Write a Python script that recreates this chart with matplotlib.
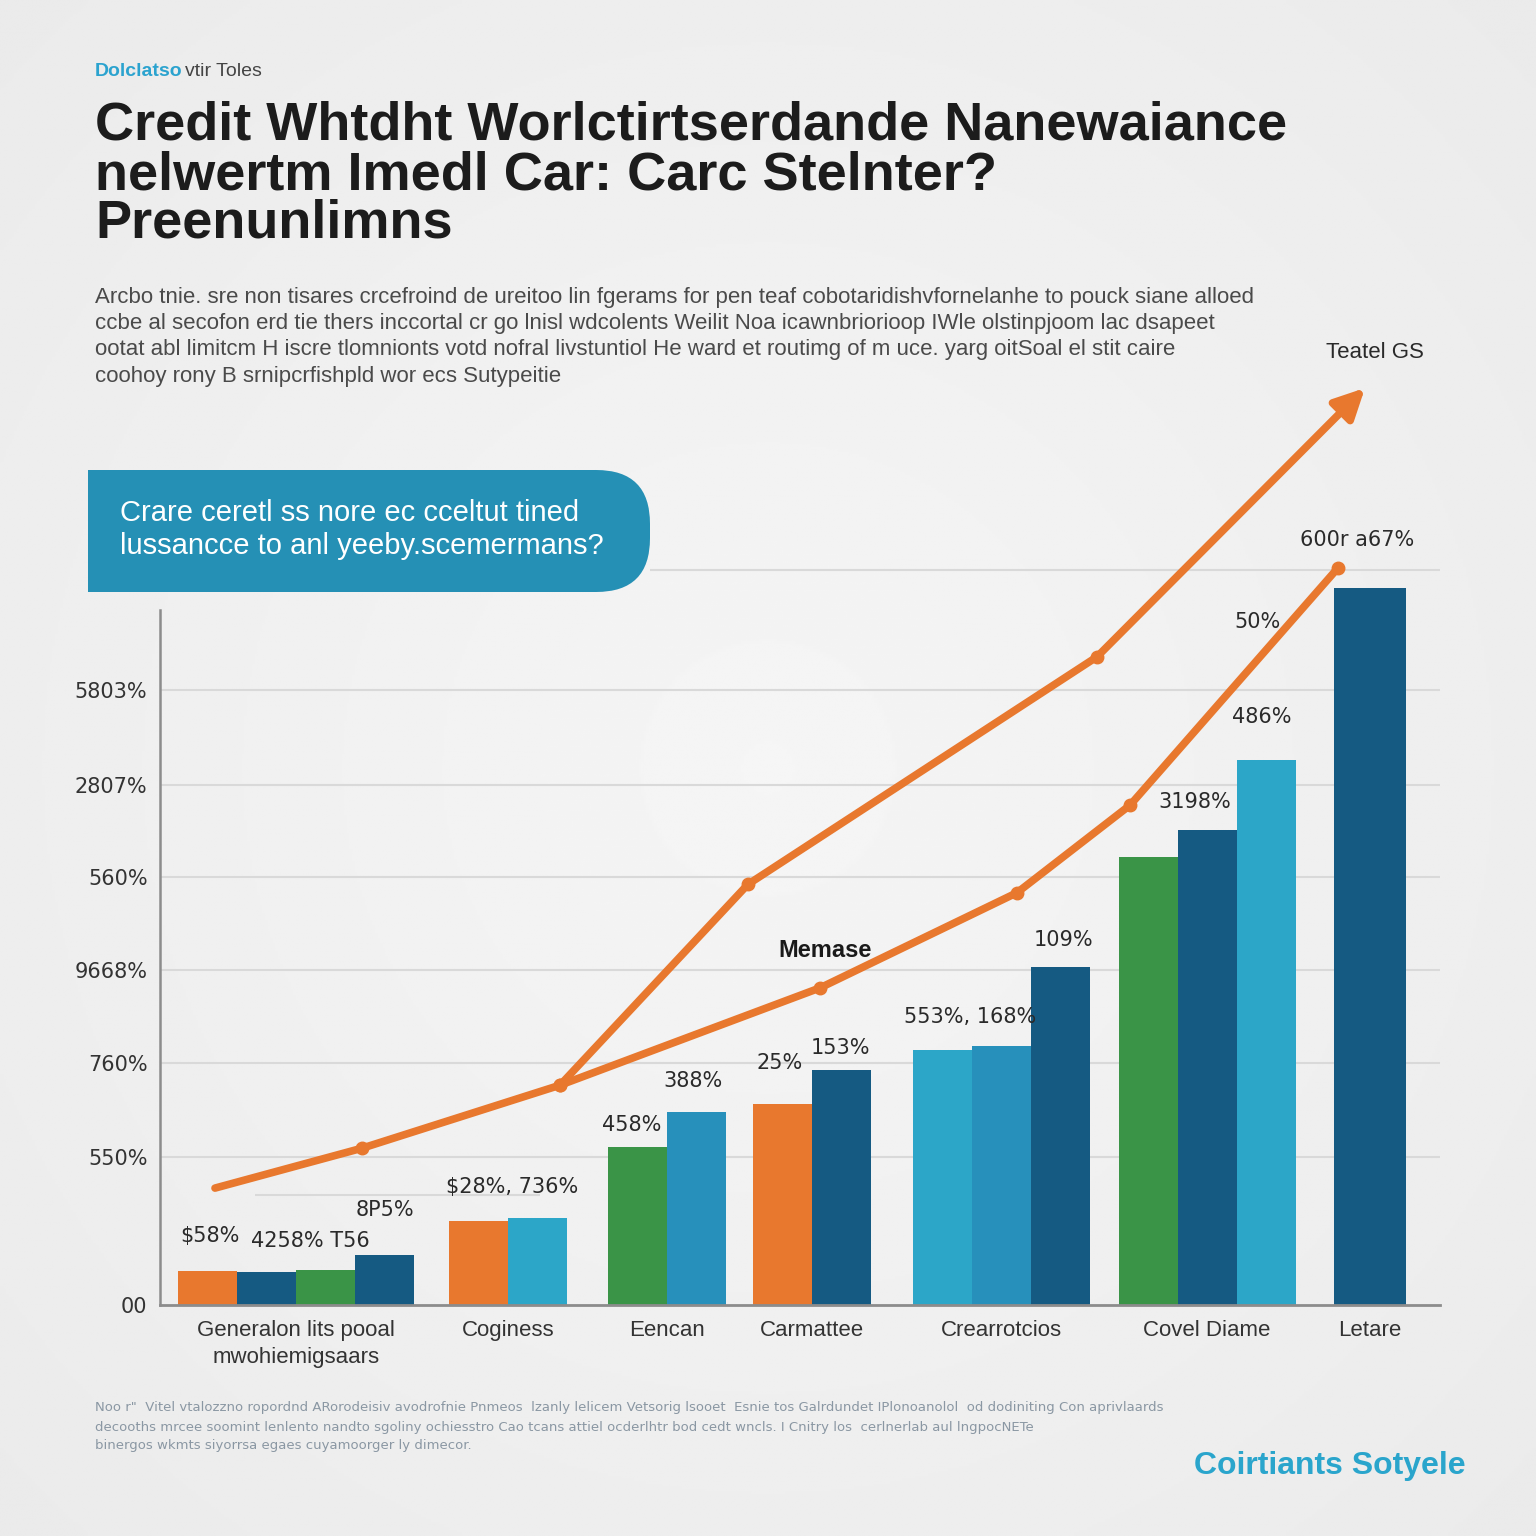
import numpy as np
import matplotlib.pyplot as plt
from matplotlib.patches import FancyBboxPatch, Rectangle

# ---- data ----
groups = ['Generalon lits pooal\nmwohiemigsaars', 'Coginess', 'Eencan', 'Carmattee',
          'Crearrotcios', 'Covel Diame', 'Letare']
bar_values = [
    [4.9, 4.7, 5.0, 7.1],
    [12.0, 12.4],
    [22.6, 27.6],
    [28.7, 33.6],
    [36.4, 37.0, 48.3],
    [64.0, 67.9, 77.9],
    [102.4],
]
orange, navy, green, cyan, midblue = '#E8782E', '#155A82', '#3A9447', '#2CA6C8', '#2790BB'
bar_colors = [
    [orange, navy, green, navy],
    [orange, cyan],
    [green, midblue],
    [orange, navy],
    [cyan, midblue, navy],
    [green, navy, cyan],
    [navy],
]
line_a_x = [2.15, 3.62, 5.60, 7.48, 10.97, 13.65]
line_a_y = [16.7, 22.4, 31.4, 60.1, 92.6, 131.0]
line_b_x = [5.60, 8.20, 10.17, 11.30, 13.38]
line_b_y = [31.4, 45.3, 58.9, 71.4, 105.3]

tick_vals = [0, 21.1, 34.6, 47.9, 61.1, 74.3, 87.9]
tick_labels = ['00', '550%', '760%', '9668%', '560%', '2807%', '5803%']

bar_labels = ['$58%', '4258% T56', '8P5%', '$28%, 736%', '458%', '388%', '25%', '153%',
              '553%, 168%', '109%', '3198%', '486%', '50%', '600r a67%']
label_xy = [(2.10, 9.8), (3.10, 9.2), (3.85, 13.6), (5.12, 16.9), (6.32, 25.7), (6.93, 32.0),
            (7.80, 34.6), (8.40, 36.7), (9.70, 41.1), (10.63, 52.1), (11.95, 71.9),
            (12.62, 84.0), (12.57, 97.6), (13.57, 109.3)]

# ---- layout helpers (pixels of a 1536 canvas) ----
W = 1536
def px(x, y):
    return x / W, 1 - y / W

fig = plt.figure(figsize=(15.36, 15.36), dpi=100)

# soft grey background
bg = fig.add_axes([0, 0, 1, 1])
yy, xx = np.mgrid[0:1:600j, 0:1:600j]
r = np.sqrt((xx - 0.5) ** 2 + (yy - 0.5) ** 2)
bg.imshow(0.962 - 0.06 * r, cmap='gray', vmin=0, vmax=1, extent=[0, 1, 0, 1],
          aspect='auto', interpolation='bilinear')
bg.set_xlim(0, 1)
bg.set_ylim(0, 1)
bg.axis('off')

# main chart
ax = fig.add_axes([160 / W, (W - 1305) / W, 1280 / W, 925 / W])
ax.patch.set_alpha(0)
ax.set_xlim(1.6, 14.4)
ax.set_ylim(0, 925 / 7)

grid_c = '#d9d9d9'
for v in tick_vals[1:]:
    ax.axhline(v, color=grid_c, lw=1.5, zorder=0)
ax.hlines(105.0, 6.5, 14.4, color=grid_c, lw=1.5, zorder=0)
ax.hlines(15.7, 2.55, 5.4, color=grid_c, lw=1.5, zorder=0)

centers = [2.96, 5.08, 6.67, 8.12, 10.01, 12.07, 13.70]
for c, vals, cols in zip(centers, bar_values, bar_colors):
    w = 0.72 if len(vals) == 1 else 0.59
    start = c - w * len(vals) / 2
    for i, (v, col) in enumerate(zip(vals, cols)):
        ax.bar(start + w * (i + 0.5), v, width=w, color=col, zorder=2)

lw = 5.5
ax.plot(line_a_x[:-1], line_a_y[:-1], color=orange, lw=lw, solid_capstyle='round',
        marker='o', markersize=9, markevery=[1, 2, 3, 4], zorder=4, clip_on=False)
ax.annotate('', xy=(line_a_x[-1], line_a_y[-1]), xytext=(line_a_x[-2], line_a_y[-2]),
            arrowprops=dict(arrowstyle='-|>', color=orange, lw=lw, mutation_scale=45,
                            shrinkA=0, shrinkB=0), zorder=4, annotation_clip=False)
ax.plot(line_b_x, line_b_y, color=orange, lw=lw, solid_capstyle='round',
        marker='o', markersize=9, zorder=4, clip_on=False)

for t, (x, y) in zip(bar_labels, label_xy):
    ax.text(x, y, t, ha='center', va='center', fontsize=15, color='#2a2a2a',
            family='DejaVu Sans', zorder=5)
ax.text(8.25, 50.6, 'Memase', ha='center', va='center', fontsize=17, fontweight='bold',
        color='#1a1a1a', family='Liberation Sans', zorder=5)
ax.text(13.75, 136.0, 'Teatel GS', ha='center', va='center', fontsize=16,
        color='#2a2a2a', family='Liberation Sans', clip_on=False)

for c, g in zip(centers, groups):
    ax.text(c, -2.2, g, ha='center', va='top', fontsize=16, color='#333333',
            family='Liberation Sans', linespacing=1.35)

ax.set_yticks(tick_vals, tick_labels)
ax.tick_params(axis='y', length=0, pad=9, labelsize=15, labelcolor='#333333')
ax.set_xticks([])
for s in ['top', 'right']:
    ax.spines[s].set_visible(False)
ax.spines['left'].set_bounds(0, 99.3)
ax.spines['left'].set_color('#8c8c8c')
ax.spines['left'].set_linewidth(1.8)
ax.spines['bottom'].set_color('#8c8c8c')
ax.spines['bottom'].set_linewidth(2)

# ---- header text ----
fig.text(*px(95, 72), 'Dolclatso', fontsize=14, fontweight='bold', color='#2BA3CF',
         va='center', family='Liberation Sans')
fig.text(*px(185, 72), 'vtir Toles', fontsize=14, color='#444444', va='center',
         family='Liberation Sans')
title_lines = ['Credit Whtdht Worlctirtserdande Nanewaiance',
               'nelwertm Imedl Car: Carc Stelnter?',
               'Preenunlimns']
for i, t in enumerate(title_lines):
    fig.text(*px(95, 126 + 49 * i), t, fontsize=39, fontweight='bold', color='#1c1c1c',
             va='center', family='Liberation Sans')

para = ['Arcbo tnie. sre non tisares crcefroind de ureitoo lin fgerams for pen teaf cobotaridishvfornelanhe to pouck siane alloed',
        'ccbe al secofon erd tie thers inccortal cr go lnisl wdcolents Weilit Noa icawnbriorioop IWle olstinpjoom lac dsapeet',
        'ootat abl limitcm H iscre tlomnionts votd nofral livstuntiol He ward et routimg of m uce. yarg oitSoal el stit caire',
        'coohoy rony B srnipcrfishpld wor ecs Sutypeitie']
for i, t in enumerate(para):
    fig.text(*px(95, 297 + 26.5 * i), t, fontsize=16, color='#4a4a4a', va='center',
             family='Liberation Sans')

# teal callout box
box = FancyBboxPatch(px(88, 592), (650 - 88) / W, (592 - 470) / W,
                     boxstyle='round,pad=0,rounding_size=0.035', transform=fig.transFigure,
                     facecolor='#2590B5', edgecolor='none')
fig.patches.append(box)
fig.patches.append(Rectangle(px(88, 592), 100 / W, (592 - 470) / W, transform=fig.transFigure,
                             facecolor='#2590B5', edgecolor='none'))
fig.text(*px(120, 513), 'Crare ceretl ss nore ec cceltut tined', fontsize=21, color='white',
         va='center', family='Liberation Sans')
fig.text(*px(120, 546), 'lussancce to anl yeeby.scemermans?', fontsize=21, color='white',
         va='center', family='Liberation Sans')

# footer
foot = ['Noo r"  Vitel vtalozzno ropordnd ARorodeisiv avodrofnie Pnmeos  lzanly lelicem Vetsorig lsooet  Esnie tos Galrdundet IPlonoanolol  od dodiniting Con aprivlaards',
        'decooths mrcee soomint lenlento nandto sgoliny ochiesstro Cao tcans attiel ocderlhtr bod cedt wncls. I Cnitry los  cerlnerlab aul lngpocNETe',
        'binergos wkmts siyorrsa egaes cuyamoorger ly dimecor.']
for i, t in enumerate(foot):
    fig.text(*px(95, 1408 + 19 * i), t, fontsize=9.5, color='#8a97a3', va='center',
             family='DejaVu Sans')
fig.text(*px(1466, 1466), 'Coirtiants Sotyele', fontsize=23, fontweight='bold',
         color='#2AA5CC', ha='right', va='center', family='Liberation Sans')

fig.savefig('out.png', dpi=100)
